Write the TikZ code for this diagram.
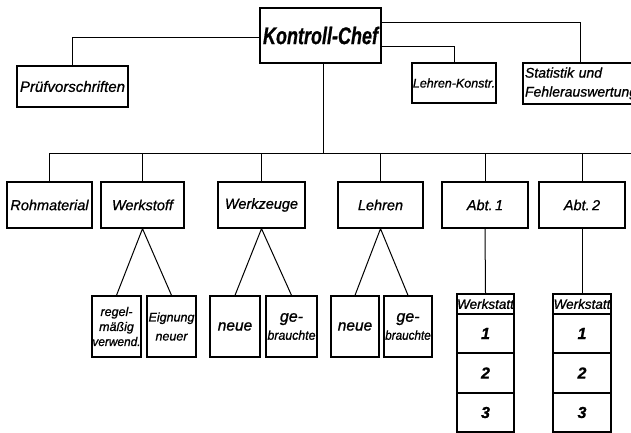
\documentclass[tikz,border=0pt]{standalone}
\usepackage{fontspec}
\setmainfont{Liberation Sans}[FakeBold=0.9]
\usepackage{graphicx}
\newcommand{\fsz}[2]{\fontsize{#1}{#2}\selectfont}
\tikzset{
  box/.style={draw, line width=1.4pt, inner sep=0pt, align=center,
    font=\itshape\fsz{14.5}{17}},
  conn/.style={line width=1pt},
  num/.style={font=\itshape\bfseries\fsz{16}{18}},
}
\begin{document}
\begin{tikzpicture}[x=1pt,y=-1pt]
\useasboundingbox (0,0) rectangle (631,433);
\fill[white] (0,0) rectangle (631,433);
\clip (0,0) rectangle (631,433);

% top level
\node[box, minimum width=121pt, minimum height=55pt, font=\itshape\bfseries\fsz{24}{28}] (kc) at (320.5,35.5) {\scalebox{0.75}[1]{Kontroll-Chef}};
\node[box, minimum width=111pt, minimum height=41pt, font=\itshape\fsz{15}{18}] (pv) at (72.5,86.5) {Prüfvorschriften};
\node[box, minimum width=84pt, minimum height=40pt, font=\itshape\fsz{12.5}{15}] (lk) at (454,83) {Lehren-Konstr.};
\node[box, minimum width=114pt, minimum height=41pt, inner sep=2pt, text width=110pt, align=left, font=\itshape\fsz{14}{19}] (st) at (580,83.5) {\makebox[102pt][s]{Statistik\ und}\\Fehlerauswertung};

\draw[conn] ([yshift=-2.5pt]kc.west) -| (pv.north);
\draw[conn] ([yshift=12.5pt]kc.east) -| (st.north);
\draw[conn] ([yshift=-11.5pt]kc.east) -| (lk.north);

% bus
\coordinate (busL) at (50,153);
\coordinate (busR) at (631,153);
\draw[conn] (busL) -- (busR);
\draw[conn] ([xshift=2.5pt]kc.south) -- ([xshift=2.5pt]kc.south |- busL);

% second row
\node[box, minimum width=85pt, minimum height=46pt] (ro) at (49.5,205) {Rohmaterial};
\node[box, minimum width=83pt, minimum height=46pt] (wst) at (142.5,205) {Werkstoff};
\node[box, minimum width=87pt, minimum height=46pt] (wz) at (261.5,205) {Werkzeuge};
\node[box, minimum width=85pt, minimum height=46pt] (le) at (380.5,205) {Lehren};
\node[box, minimum width=86pt, minimum height=46pt] (a1) at (485,205) {Abt.\,1};
\node[box, minimum width=86pt, minimum height=46pt] (a2) at (582,205) {Abt.\,2};

\foreach \n in {ro,wst,wz,le,a1,a2}
  \draw[conn] (\n.north) -- (\n.north |- busL);

% third row
\node[box, minimum width=49pt, minimum height=61pt, font=\itshape\fsz{12.5}{15}] (rm) at (116.5,326.5) {regel-\\mäßig\\\scalebox{0.95}[1]{verwend.}};
\node[box, minimum width=49pt, minimum height=61pt, font=\itshape\fsz{12.5}{19}] (en) at (171.5,326.5) {Eignung\\neuer};
\node[box, minimum width=50pt, minimum height=61pt, font=\itshape\fsz{15.5}{17}] (n1) at (235,326.5) {neue};
\node[box, minimum width=51pt, minimum height=61pt, font=\itshape\fsz{13}{18}] (g1) at (291.5,326.5) {{\fsz{16}{18}ge-}\\\scalebox{0.95}[1]{brauchte}};
\node[box, minimum width=48pt, minimum height=61pt, font=\itshape\fsz{15.5}{17}] (n2) at (355,326.5) {neue};
\node[box, minimum width=48pt, minimum height=61pt, font=\itshape\fsz{13}{18}] (g2) at (408,326.5) {{\fsz{16}{18}ge-}\\\scalebox{0.9}[1]{brauchte}};

\draw[conn] (rm.north) -- (wst.south) -- (en.north);
\draw[conn] (n1.north) -- (wz.south) -- (g1.north);
\draw[conn] (n2.north) -- (le.south) -- (g2.north);

% Werkstatt columns
\node[box, minimum width=57pt, minimum height=20pt, font=\itshape\fsz{13.5}{15}] (wh1) at (485.5,304) {Werkstatt};
\node[box, num, minimum width=57pt, minimum height=39pt] (c11) at (485.5,333.5) {1};
\node[box, num, minimum width=57pt, minimum height=40pt] (c12) at (485.5,373) {2};
\node[box, num, minimum width=57pt, minimum height=39pt] (c13) at (485.5,412.5) {3};

\node[box, minimum width=58pt, minimum height=20pt, font=\itshape\fsz{13.5}{15}] (wh2) at (582,304) {Werkstatt};
\node[box, num, minimum width=58pt, minimum height=39pt] (c21) at (582,333.5) {1};
\node[box, num, minimum width=58pt, minimum height=40pt] (c22) at (582,373) {2};
\node[box, num, minimum width=58pt, minimum height=39pt] (c23) at (582,412.5) {3};

\draw[conn] (a1.south) -- (wh1.north);
\draw[conn] (a2.south) -- (wh2.north);
\end{tikzpicture}
\end{document}
